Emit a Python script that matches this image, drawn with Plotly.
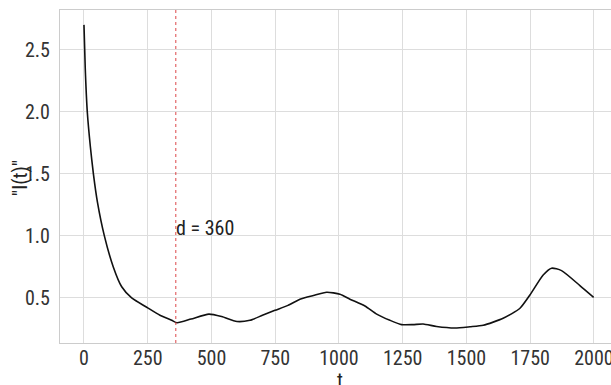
import plotly.graph_objects as go

t_vals = [0, 5, 13, 25, 37, 53, 80, 115, 148, 187, 246, 298, 344, 365, 420, 490, 540, 600,
          651, 700, 749, 800, 847, 900, 952, 1004, 1043, 1102, 1148, 1200, 1246, 1290, 1330,
          1383, 1455, 1514, 1566, 1644, 1710, 1749, 1801, 1834, 1873, 1945, 1999]
i_vals = [2.70, 2.35, 2.00, 1.72, 1.50, 1.27, 1.00, 0.75, 0.59, 0.50, 0.425, 0.36, 0.32, 0.30,
          0.33, 0.37, 0.35, 0.31, 0.32, 0.36, 0.40, 0.44, 0.49, 0.52, 0.546, 0.53, 0.49, 0.435,
          0.37, 0.32, 0.285, 0.285, 0.29, 0.27, 0.258, 0.268, 0.28, 0.336, 0.417, 0.524, 0.685,
          0.74, 0.72, 0.60, 0.505]
d_value = 360
x_ticks = [0, 250, 500, 750, 1000, 1250, 1500, 1750, 2000]
y_ticks = [0.5, 1.0, 1.5, 2.0, 2.5]
x_title = "t"
y_title = '"I(t)"'

FONT = "Roboto Condensed, Liberation Sans, Arial, sans-serif"

fig = go.Figure()
fig.add_trace(go.Scatter(x=t_vals, y=i_vals, mode="lines",
                         line=dict(color="#111111", width=1.6, shape="spline", smoothing=0.6),
                         showlegend=False, hoverinfo="skip"))

fig.add_shape(type="line", xref="x", yref="paper", x0=d_value, x1=d_value, y0=0, y1=1,
              line=dict(color="rgba(214,39,40,0.7)", width=1.2, dash="dot"))
fig.add_annotation(x=d_value, y=1.0, xref="x", yref="y", text=f"d = {d_value}",
                   showarrow=False, xanchor="left", yanchor="bottom", xshift=-2, yshift=-6,
                   font=dict(family=FONT, size=20, color="#222222"))

# axis titles (placed like matplotlib's centred labels)
fig.add_annotation(x=0.508, y=0, xref="paper", yref="paper", text=x_title, showarrow=False,
                   xanchor="center", yanchor="top", yshift=-23,
                   font=dict(family=FONT, size=20, color="#222222"))
fig.add_annotation(x=0, y=0.495, xref="paper", yref="paper", text=y_title, showarrow=False,
                   textangle=-90, xanchor="center", yanchor="middle", xshift=-40,
                   font=dict(family=FONT, size=20, color="#222222"))

fig.update_layout(
    width=611, height=385,
    margin=dict(l=60, r=0, t=10, b=42),
    paper_bgcolor="white", plot_bgcolor="white",
    font=dict(family=FONT, size=20, color="#333333"),
    xaxis=dict(range=[-94, 2067], tickvals=x_ticks, ticktext=[str(v) for v in x_ticks],
               showgrid=True, gridcolor="#dddddd", gridwidth=1, zeroline=False,
               showline=True, linecolor="#cccccc", linewidth=1, mirror=True,
               ticks="", ticklabelstandoff=-3, automargin=False, ticklabeloverflow="allow"),
    yaxis=dict(range=[0.137, 2.82], tickvals=y_ticks, ticktext=[f"{v:.1f}" for v in y_ticks],
               showgrid=True, gridcolor="#dddddd", gridwidth=1, zeroline=False,
               showline=True, linecolor="#cccccc", linewidth=1, mirror=True,
               ticks="", ticklabelstandoff=5, automargin=False, ticklabeloverflow="allow"),
)

fig.write_html("out.html", config={"displayModeBar": False},
               post_script="document.body.style.margin='0';document.body.style.overflow='hidden';")
